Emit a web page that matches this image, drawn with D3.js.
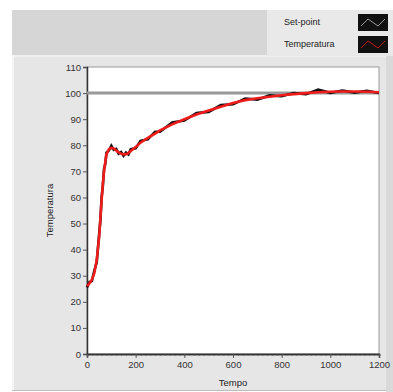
<!DOCTYPE html>
<html>
<head>
<meta charset="utf-8">
<script src="https://cdn.jsdelivr.net/npm/d3@7/dist/d3.min.js"></script>
<style>
  body { margin: 0; background: #fff; }
  text { font-family: "Liberation Sans", Arial, sans-serif; }
</style>
</head>
<body>
<svg id="chart" width="393" height="392"></svg>
<script>
// tempo (s)
const tempo = [0,10,20,30,40,50,55,60,65,70,75,80,90,100,110,120,130,140,150,160,170,180,200,220,250,280,300,350,400,450,500,550,600,650,700,750,800,850,900,950,1000,1050,1100,1150,1200];
// temperatura (red trace)
const temperatura = [26,27,28.5,31,36,45,52,59,65,70,73.5,76.5,78.5,79,78.8,78,77.3,76.8,76.5,76.6,77,77.8,79.3,81,82.8,84.5,85.7,88,90,91.8,93.3,94.8,96.2,97.3,98,98.6,99.2,99.6,100,100.3,100.5,100.6,100.6,100.5,100.3];
// measured samples (black jitter behind the red trace)
const medida = [25.5,27.6,28,31.9,35.2,46,51.1,60,64.2,70.9,72.8,77.2,78,79.8,78.2,78.6,76.8,77.4,76,77.2,76.5,78.5,78.8,81.7,82.3,85.2,85.2,88.7,89.5,92.4,92.8,95.4,95.7,97.9,97.5,99.1,98.8,100,99.6,101.3,100.1,101,100.2,100.9,100];
const setpoint = 100;
const yTicks = [0,10,20,30,40,50,60,70,80,90,100,110];
const xTicks = [0,200,400,600,800,1000,1200];
const legendLabels = ["Set-point", "Temperatura"];

const svg = d3.select("#chart");

// background panels
svg.append("rect").attr("x", 12).attr("y", 10).attr("width", 381).attr("height", 45).attr("fill", "#d6d6d6");
svg.append("rect").attr("x", 12).attr("y", 55).attr("width", 374).attr("height", 336).attr("fill", "#e6e6e6");
svg.append("line").attr("x1", 13).attr("x2", 13).attr("y1", 55).attr("y2", 390).attr("stroke", "#fafafa").attr("stroke-width", 1.5);
svg.append("line").attr("x1", 12).attr("x2", 386).attr("y1", 56).attr("y2", 56).attr("stroke", "#f2f2f2").attr("stroke-width", 1.5);
svg.append("rect").attr("x", 386).attr("y", 55).attr("width", 7).attr("height", 337).attr("fill", "#d9d9d9");
svg.append("line").attr("x1", 12).attr("x2", 386).attr("y1", 390.5).attr("y2", 390.5).attr("stroke", "#bdbdbd");

// legend
const leg = svg.append("g");
leg.append("rect").attr("x", 267).attr("y", 10).attr("width", 126).attr("height", 46).attr("fill", "#e9e9e9");
legendLabels.forEach((lab, i) => {
  const y0 = 14 + i * 22;
  leg.append("text").attr("x", 284).attr("y", y0 + 11).attr("font-size", 9).attr("fill", "#222").text(lab);
  leg.append("rect").attr("x", 358).attr("y", y0).attr("width", 30).attr("height", 17).attr("fill", "#111");
  leg.append("path")
    .attr("d", `M${361},${y0 + 12} L${368},${y0 + 5} L${378},${y0 + 12} L${385},${y0 + 5}`)
    .attr("fill", "none")
    .attr("stroke", i === 0 ? "#9a9a9a" : "#c01818")
    .attr("stroke-width", 1);
});

const pLeft = 87, pRight = 379, pTop = 67, pBottom = 354;

const x = d3.scaleLinear().domain([0, 1200]).range([pLeft, pRight]);
const y = d3.scaleLinear().domain([0, 110]).range([pBottom, pTop]);

svg.append("rect").attr("x", pLeft).attr("y", pTop).attr("width", pRight - pLeft).attr("height", pBottom - pTop)
  .attr("fill", "#fff").attr("stroke", "#9a9a9a").attr("stroke-width", 1);

// axes
const yAxis = svg.append("g").attr("transform", `translate(${pLeft},0)`)
  .call(d3.axisLeft(y).tickValues(yTicks).tickSize(4).tickPadding(2));
const xMinor = svg.append("g").attr("transform", `translate(0,${pBottom})`)
  .call(d3.axisBottom(x).ticks(60).tickSize(2).tickFormat(""));
const xAxis = svg.append("g").attr("transform", `translate(0,${pBottom})`)
  .call(d3.axisBottom(x).tickValues(xTicks).tickSize(4).tickPadding(3).tickFormat(d3.format("d")));

[yAxis, xAxis, xMinor].forEach(g => {
  g.select(".domain").attr("stroke", "#333").attr("stroke-width", 1.5);
  g.selectAll(".tick line").attr("stroke", "#555");
  g.selectAll("text").attr("font-size", 9.5).attr("fill", "#333")
    .attr("font-family", "'Liberation Sans', Arial, sans-serif");
});
xMinor.selectAll(".tick line").attr("stroke", "#888");

// setpoint
svg.append("line")
  .attr("x1", x(0)).attr("x2", x(1200))
  .attr("y1", y(setpoint)).attr("y2", y(setpoint))
  .attr("stroke", "#999").attr("stroke-width", 3);

const line = d3.line().x(d => x(d[0])).y(d => y(d[1]));

svg.append("path")
  .datum(tempo.map((t, i) => [t, medida[i]]))
  .attr("d", line)
  .attr("fill", "none").attr("stroke", "#111").attr("stroke-width", 2.6);

svg.append("path")
  .datum(tempo.map((t, i) => [t, temperatura[i]]))
  .attr("d", line)
  .attr("fill", "none").attr("stroke", "#f01c1c").attr("stroke-width", 2.6);

// axis titles
svg.append("text").attr("x", (pLeft + pRight) / 2).attr("y", 386).attr("text-anchor", "middle")
  .attr("font-size", 9.5).attr("fill", "#222").text("Tempo");
svg.append("text").attr("transform", `translate(53,${(pTop + pBottom) / 2}) rotate(-90)`)
  .attr("text-anchor", "middle").attr("font-size", 9.5).attr("fill", "#222").text("Temperatura");
</script>
</body>
</html>
